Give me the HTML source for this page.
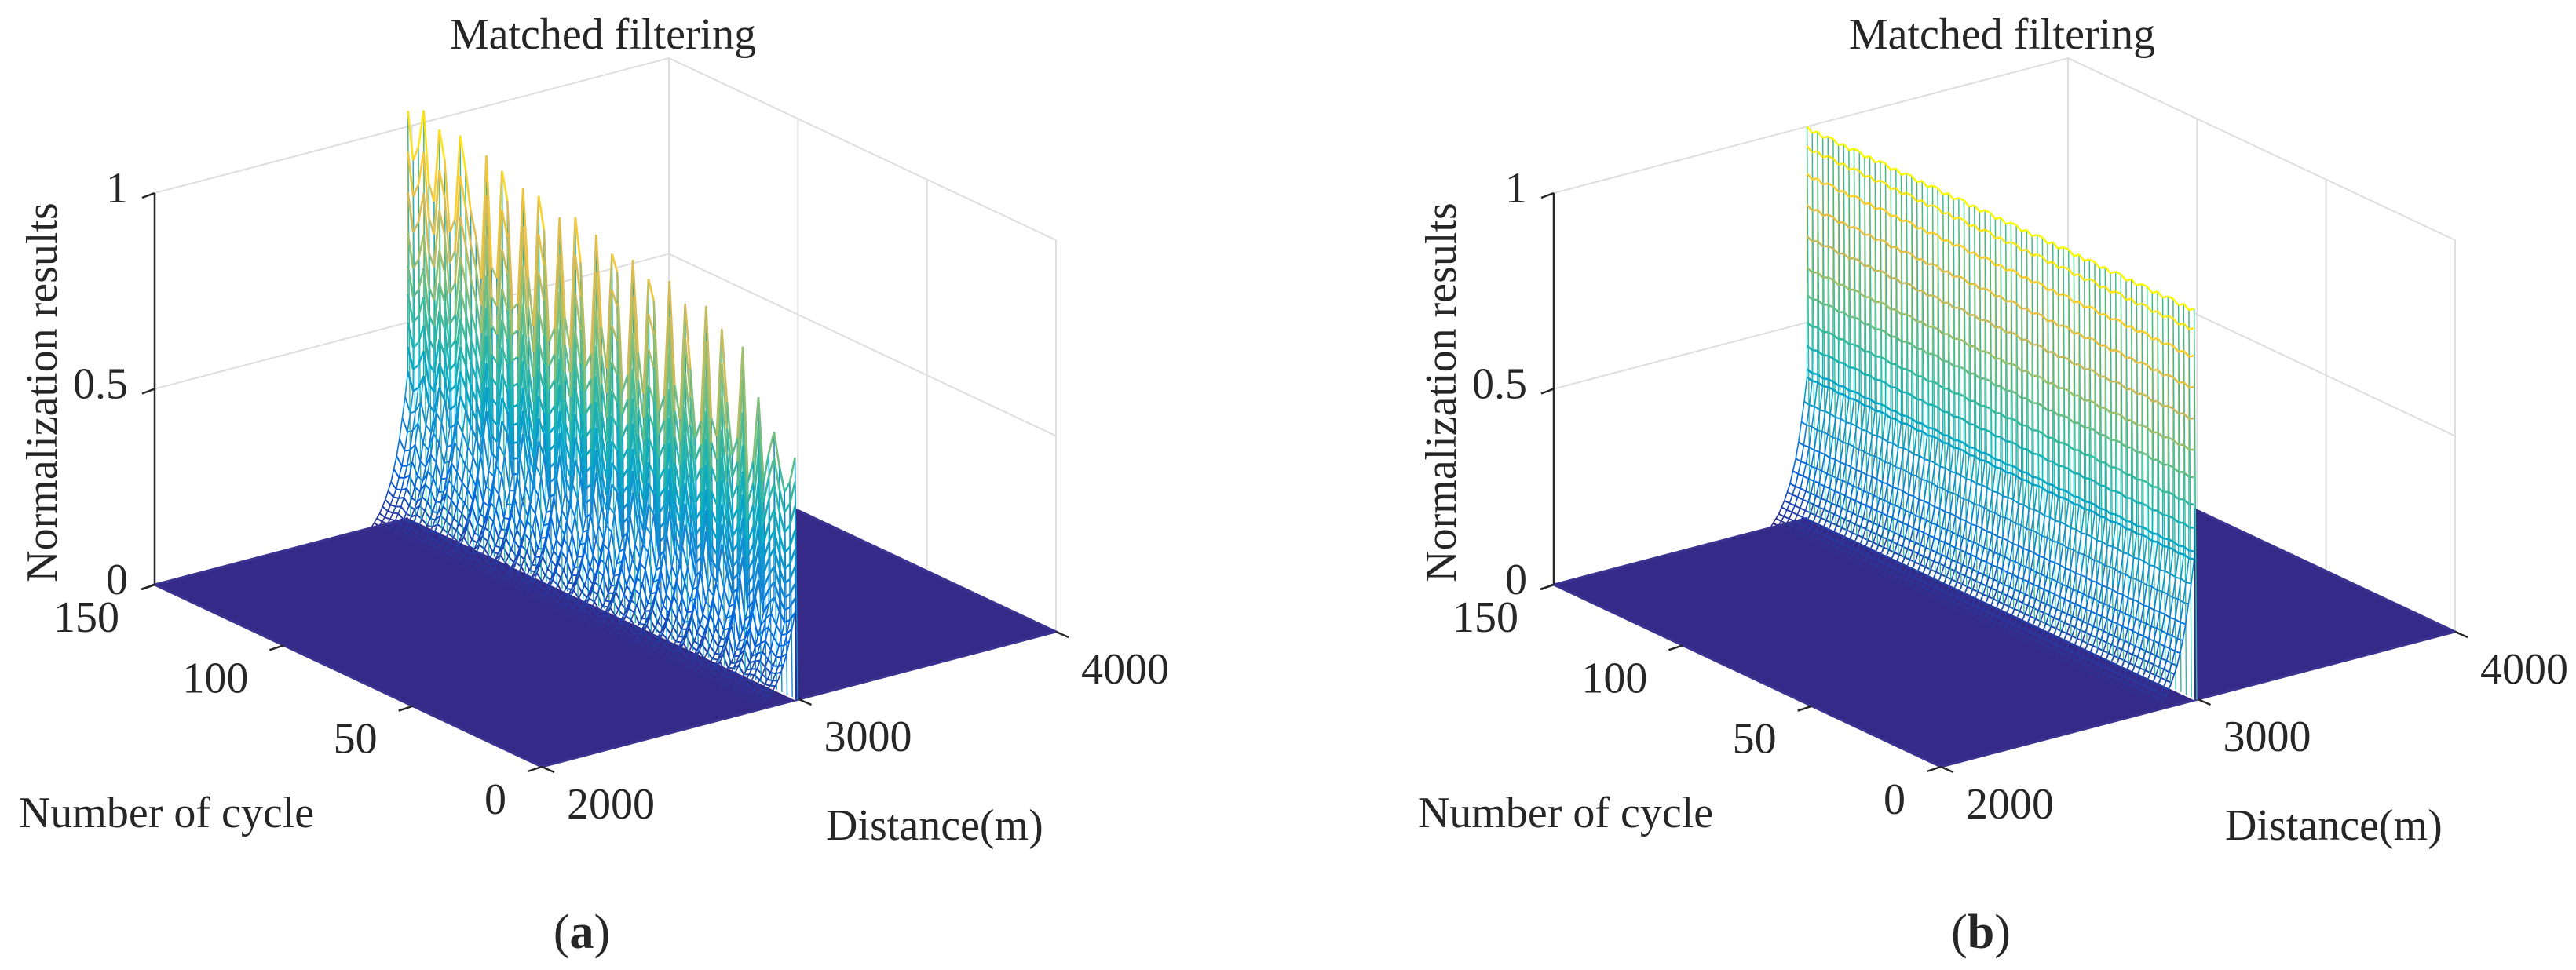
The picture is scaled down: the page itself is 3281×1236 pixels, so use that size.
<!DOCTYPE html>
<html><head><meta charset="utf-8"><style>
html,body{margin:0;padding:0;background:#fff;}
svg{display:block;}
text{font-family:"Liberation Serif",serif;fill:#262626;}
</style></head><body>
<svg id="chart" width="3281" height="1236" viewBox="0 0 3281 1236" xmlns="http://www.w3.org/2000/svg">
<rect width="3281" height="1236" fill="#fff"/>
</svg>
<script>
// ---- data ----
const zTicks = [0, 0.5, 1];
const zTickLabels = ["0", "0.5", "1"];
const cycleTicks = [0, 50, 100, 150];
const cycleTickLabels = ["0", "50", "100", "150"];
const distTicks = [2000, 3000, 4000];
const distTickLabels = ["2000", "3000", "4000"];
const peakDistance = 2985;
// peak amplitude per cycle (front cycle 0 -> back cycle 150)
const ampA = [0.62,0.55,0.52,0.58,0.66,0.60,0.52,0.73,0.56,0.50,0.84,0.60,0.55,0.68,0.86,0.58,0.62,0.90,0.60,0.55,0.72,0.88,0.58,0.66,0.92,0.62,0.57,0.85,0.90,0.60,0.70,0.93,0.63,0.58,0.88,0.92,0.62,0.72,0.95,0.64,0.60,0.86,0.97,0.63,0.70,0.95,0.66,0.62,0.90,0.98,0.64,0.76,0.98,0.68,0.66,0.93,1.00,0.72,0.74,1.02,0.70,0.80,0.86,0.96,1.04,0.82,0.78,0.96,1.03,0.84,0.88,1.06,0.96,0.92,1.04];
const ampB = [1.00,0.99,1.00,0.99,1.00,1.00,0.99,1.00,0.99,1.00,1.00,0.99,1.00,0.99,1.00,1.00,0.99,1.00,0.99,1.00,1.00,0.99,1.00,0.99,1.00,1.00,0.99,1.00,0.99,1.00,1.00,0.99,1.00,0.99,1.00,1.00,0.99,1.00,0.99,1.00,1.00,0.99,1.00,0.99,1.00,1.00,0.99,1.00,0.99,1.00,1.00,0.99,1.00,0.99,1.00,1.00,0.99,1.00,0.99,1.00,1.00,0.99,1.00,0.99,1.00,1.00,0.99,1.00,0.99,1.00,1.00,0.99,1.00,0.99,1.00];
// fractions of peak where mesh rows cross the peak wall
const levelsA = [1,0.9,0.8,0.7,0.62,0.55,0.48,0.42,0.36];
const levelsB = [1,0.95,0.88,0.8,0.72,0.64,0.57,0.5,0.44,0.38,0.36];
// relative heights of the sidelobe tail at successive distance samples before the peak
const tailLevels = [0.36,0.3,0.25,0.2,0.16,0.13,0.1,0.08,0.06,0.045,0.03,0.02,0.01,0.0];
const tailStep = 11;

const NS = "http://www.w3.org/2000/svg";
const svg = document.getElementById('chart');
const parula = [[53,42,135],[3,99,225],[20,133,212],[6,167,198],[56,185,158],[146,191,115],[217,186,86],[252,206,46],[249,251,14]];
function pcol(t){
  t = Math.max(0, Math.min(1, t));
  const s = t*(parula.length-1), i = Math.min(parula.length-2, Math.floor(s)), f = s-i;
  const a = parula[i], b = parula[i+1];
  return `rgb(${Math.round(a[0]+(b[0]-a[0])*f)},${Math.round(a[1]+(b[1]-a[1])*f)},${Math.round(a[2]+(b[2]-a[2])*f)})`;
}
function el(tag, attrs, parent){
  const e = document.createElementNS(NS, tag);
  for (const k in attrs) e.setAttribute(k, attrs[k]);
  parent.appendChild(e);
  return e;
}

function drawPanel(ox, amps, levels, panelLabel){
  const P = (d,c,z) => [690+ox+(d-2000)/2000*655 - c/150*493, 977-(d-2000)/2000*172 - c/150*232 - z*499];
  const zmax = Math.max(...amps);
  const g = el('g', {}, svg);
  
  
  const grid = el('g', {stroke:'#dedede','stroke-width':2,fill:'none'}, g);
  
  
  zTicks.forEach(z => { if (z===0) return; const a=P(2000,150,z), b=P(4000,150,z), c=P(4000,0,z);
    el('polyline', {points:`${a} ${b} ${c}`}, grid); });
  distTicks.forEach(d => { if (d===2000) return; const a=P(d,150,0), b=P(d,150,1);
    el('line', {x1:a[0],y1:a[1],x2:b[0],y2:b[1]}, grid); });
  cycleTicks.forEach(c => { if (c===150) return; const a=P(4000,c,0), b=P(4000,c,1);
    el('line', {x1:a[0],y1:a[1],x2:b[0],y2:b[1]}, grid); });

  const gr = [P(2000,0,0),P(2000,150,0),P(4000,150,0),P(4000,0,0)];
  const ground = el('polygon', {points:gr.join(' '), fill:'#352a87', stroke:'#3a3390','stroke-width':3}, g);
  
  

  const N = amps.length;
  const cyc = i => i*150/(N-1);
  let pts = [P(peakDistance,0,0), P(peakDistance,150,0)];
  for (let i=N-1;i>=0;i--) pts.push(P(peakDistance,cyc(i),amps[i]));
  const wall = el('polygon', {points:pts.join(' '), fill:'#fff'}, g);
  
  

  const mesh = el('g', {fill:'none'}, g);
  
  
  function seg(a,b,z,w){
    const l = el('line', {x1:a[0].toFixed(1),y1:a[1].toFixed(1),x2:b[0].toFixed(1),y2:b[1].toFixed(1),stroke:pcol(z/zmax),'stroke-width':w}, mesh);
    
    
  }
  for (let k=tailLevels.length-1;k>=1;k--){
    const d = peakDistance - k*tailStep;
    for (let i=N-1;i>0;i--){
      const z1 = amps[i]*tailLevels[k], z0 = amps[i-1]*tailLevels[k];
      seg(P(d,cyc(i),z1), P(d,cyc(i-1),z0), (z0+z1)/2, 2);
    }
  }
  for (let i=N-1;i>=0;i--){
    const c = cyc(i), a = amps[i];
    for (let k=tailLevels.length-1;k>=1;k--){
      const z0 = a*tailLevels[k], z1 = a*tailLevels[k-1];
      seg(P(peakDistance-k*tailStep,c,z0), P(peakDistance-(k-1)*tailStep,c,z1), (z0+z1)/2, 1.6);
    }
    for (let j=levels.length-1;j>0;j--){
      const z0=a*levels[j], z1=a*levels[j-1];
      seg(P(peakDistance,c,z0), P(peakDistance,c,z1), (z0+z1)/2, 1.4);
    }
    seg(P(peakDistance,c,a), P(peakDistance+10,c,0), a*0.5, 1.4);
  }
  for (let j=levels.length-1;j>=0;j--){
    for (let i=N-1;i>0;i--){
      const z1 = amps[i]*levels[j], z0 = amps[i-1]*levels[j];
      seg(P(peakDistance,cyc(i),z1), P(peakDistance,cyc(i-1),z0), (z0+z1)/2, 2.6);
    }
  }

  const ax = el('g', {stroke:'#262626','stroke-width':2.5,fill:'none'}, g);
  
  
  let a0=P(2000,150,0), a1=P(2000,150,1);
  el('line',{x1:a0[0],y1:a0[1],x2:a1[0],y2:a1[1]},ax);
  zTicks.forEach(z=>{const p=P(2000,150,z); el('line',{x1:p[0],y1:p[1],x2:p[0]-16,y2:p[1]+6},ax);});
  cycleTicks.forEach(c=>{const p=P(2000,c,0); el('line',{x1:p[0],y1:p[1],x2:p[0]-18,y2:p[1]+6},ax);});
  distTicks.forEach(d=>{const p=P(d,0,0); el('line',{x1:p[0],y1:p[1],x2:p[0]+16,y2:p[1]+7},ax);});

  const txt = (s, x, y, anchor, name, extra) => {
    const t = el('text', Object.assign({x:x, y:y, 'text-anchor':anchor, 'font-size':56, 'dominant-baseline':'central'}, extra||{}), g);
    t.textContent = s;
    
    
    return t;
  };
  zTicks.forEach((z,i)=>{const p=P(2000,150,z); txt(zTickLabels[i], p[0]-34, p[1]-6, 'end', 'z-tick-label');});
  cycleTicks.forEach((c,i)=>{const p=P(2000,c,0); txt(cycleTickLabels[i], p[0]-45, p[1]+42, 'end', 'cycle-tick-label');});
  distTicks.forEach((d,i)=>{const p=P(d,0,0); txt(distTickLabels[i], p[0]+32, p[1]+48, 'start', 'distance-tick-label');});
  txt('Matched filtering', 768+ox, 44, 'middle', 'chart-title');
  txt('Number of cycle', 212+ox, 1036, 'middle', 'x-axis-title');
  txt('Distance(m)', 1052+ox, 1052, 'start', 'y-axis-title');
  txt('Normalization results', 0, 0, 'middle', 'z-axis-title', {transform:`translate(${54+ox},500) rotate(-90)`});
  txt('(' + panelLabel + ')', 741+ox, 1188, 'middle', 'panel-label', {'font-size':62});
  const lbl = g.lastChild;
  lbl.innerHTML = '(<tspan font-weight="bold">' + panelLabel + '</tspan>)';
}
drawPanel(0, ampA, levelsA, 'a');
drawPanel(1782, ampB, levelsB, 'b');
</script>
</body></html>
